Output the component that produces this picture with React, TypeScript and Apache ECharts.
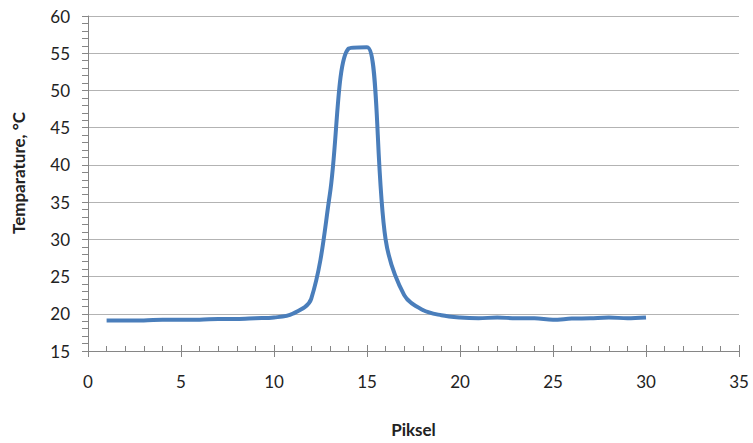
import React, { useEffect, useRef } from "react";
import * as echarts from "echarts";

const pixels = [1, 2, 3, 4, 5, 6, 7, 8, 9, 10, 11, 12, 13, 14, 15, 16, 17, 18, 19, 20, 21, 22, 23, 24, 25, 26, 27, 28, 29, 30];
const temperatures = [19.1, 19.1, 19.1, 19.2, 19.2, 19.2, 19.3, 19.3, 19.4, 19.5, 20.0, 22.0, 36.0, 55.6, 55.8, 30.0, 22.5, 20.5, 19.8, 19.5, 19.4, 19.5, 19.4, 19.4, 19.2, 19.35, 19.4, 19.5, 19.4, 19.5];
const xAxisTitle = "Piksel";
const yAxisTitle = "Temparature, °C";

const FONT = "Lato, 'Noto Sans', sans-serif";
const AXIS_COLOR = "#868686";

export default function App() {
  const ref = useRef<HTMLDivElement>(null);
  useEffect(() => {
    if (!ref.current) return;
    const chart = echarts.init(ref.current, undefined, { renderer: "svg" });
    const grid = { left: 88, right: 14, top: 16, bottom: 92 };
    chart.setOption({
      animation: false,
      backgroundColor: "#ffffff",
      grid,
      xAxis: [
        {
          type: "value",
          min: 0,
          max: 35,
          interval: 5,
          position: "bottom",
          axisLine: { show: true, onZero: false, lineStyle: { color: AXIS_COLOR, width: 1 } },
          axisTick: { show: true, inside: false, length: 6, lineStyle: { color: AXIS_COLOR } },
          axisLabel: { color: "#222", fontSize: 17, fontFamily: FONT, margin: 22 },
          splitLine: { show: false },
          name: xAxisTitle,
          nameLocation: "middle",
          nameGap: 70,
          nameTextStyle: { color: "#222", fontSize: 17, fontWeight: "bold", fontFamily: FONT },
        },
        {
          type: "value",
          min: 0,
          max: 35,
          interval: 5,
          position: "bottom",
          axisLine: { show: false, onZero: false },
          axisTick: { show: true, inside: true, length: 6, lineStyle: { color: AXIS_COLOR } },
          minorTick: { show: true, splitNumber: 5, length: 5, lineStyle: { color: AXIS_COLOR } },
          axisLabel: { show: false },
          splitLine: { show: false },
        },
      ],
      yAxis: [
        {
          type: "value",
          min: 15,
          max: 60,
          interval: 5,
          position: "left",
          axisLine: { show: true, onZero: false, lineStyle: { color: AXIS_COLOR, width: 1 } },
          axisTick: { show: true, inside: false, length: 6, lineStyle: { color: AXIS_COLOR } },
          axisLabel: { color: "#222", fontSize: 17, fontFamily: FONT, margin: 18 },
          splitLine: { show: true, lineStyle: { color: "#b3b3b3", width: 1 } },
        },
        {
          type: "value",
          min: 15,
          max: 60,
          interval: 5,
          position: "left",
          axisLine: { show: false, onZero: false },
          axisTick: { show: false },
          minorTick: { show: true, splitNumber: 5, length: 6, lineStyle: { color: AXIS_COLOR } },
          axisLabel: { show: false },
          splitLine: { show: false },
        },
      ],
      graphic: [
        {
          type: "text",
          x: 18,
          y: 173,
          rotation: Math.PI / 2,
          style: {
            text: yAxisTitle,
            fill: "#222",
            fontSize: 17,
            fontWeight: "bold",
            fontFamily: FONT,
            align: "center",
            verticalAlign: "middle",
          },
        },
      ],
      series: [
        {
          type: "line",
          xAxisIndex: 0,
          yAxisIndex: 0,
          data: pixels.map((p, i) => [p, temperatures[i]]),
          smooth: 0.35,
          showSymbol: false,
          symbol: "none",
          lineStyle: { color: "#4A7EBB", width: 4 },
        },
      ],
    });
    return () => chart.dispose();
  }, []);
  return (
    <div
      ref={ref}
      style={{ position: "absolute", left: 0, top: 0, width: 753, height: 443 }}
    />
  );
}
